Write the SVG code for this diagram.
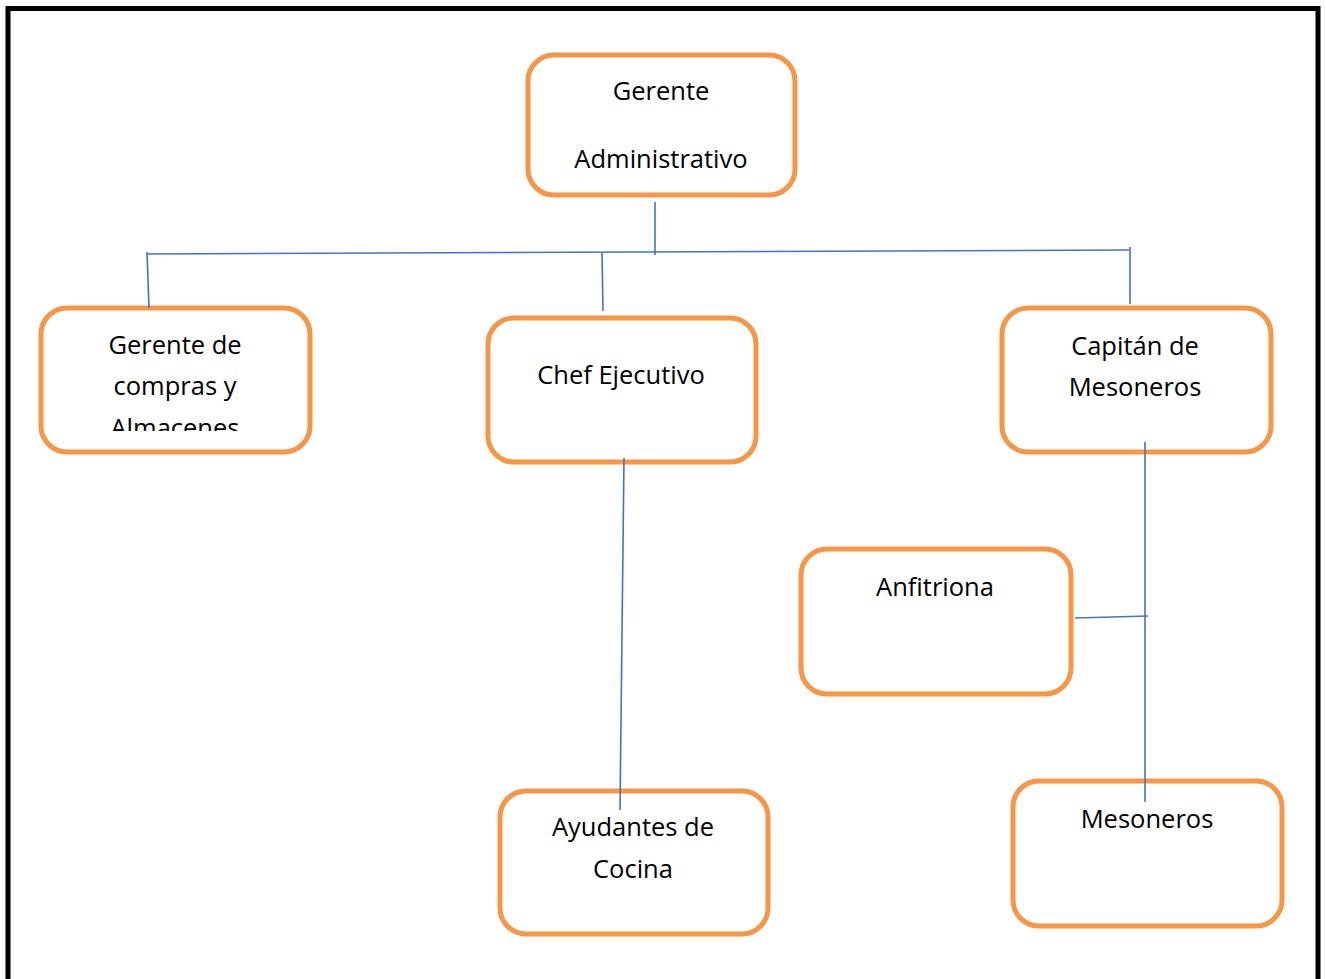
<svg xmlns="http://www.w3.org/2000/svg" width="1326" height="979" viewBox="0 0 1326 979">
<style>
.box{fill:#fff;stroke:#F79646;stroke-width:5}
.t{font-family:"Open Sans","Noto Sans",sans-serif;font-size:25.5px;fill:#000;text-anchor:middle}
.c{stroke:#4472C4;stroke-width:1.6;fill:none}
</style>
<defs>
<clipPath id="clipA"><rect x="43" y="310" width="265" height="121"/></clipPath>
</defs>
<rect x="8" y="8.5" width="1310" height="990" fill="#fff" stroke="#000" stroke-width="5"/>
<g id="n-admin">
<rect class="box" x="528" y="55" width="267" height="140" rx="26"/>
<text class="t" x="661" y="100">Gerente</text>
<text class="t" x="661" y="168">Administrativo</text>
</g>
<g id="n-compras">
<rect class="box" x="41" y="308" width="269" height="144" rx="26"/>
<g clip-path="url(#clipA)">
<text class="t" x="175" y="354">Gerente de</text>
<text class="t" x="175" y="395">compras y</text>
<text class="t" x="175" y="437">Almacenes</text>
</g>
</g>
<g id="n-chef">
<rect class="box" x="488" y="318" width="268" height="144" rx="26"/>
<text class="t" x="621" y="384">Chef Ejecutivo</text>
</g>
<g id="n-capitan">
<rect class="box" x="1002" y="308" width="269" height="144" rx="26"/>
<text class="t" x="1135" y="355">Capitán de</text>
<text class="t" x="1135" y="396">Mesoneros</text>
</g>
<g id="n-anfitriona">
<rect class="box" x="801" y="549" width="270" height="145" rx="26"/>
<text class="t" x="935" y="596">Anfitriona</text>
</g>
<g id="n-ayudantes">
<rect class="box" x="500" y="791" width="268" height="143" rx="26"/>
<text class="t" x="633" y="836">Ayudantes de</text>
<text class="t" x="633" y="878">Cocina</text>
</g>
<g id="n-mesoneros">
<rect class="box" x="1013" y="781" width="269" height="145" rx="26"/>
<text class="t" x="1147" y="828">Mesoneros</text>
</g>
<g id="connectors">
<line class="c" x1="655" y1="202" x2="655" y2="255"/>
<line class="c" x1="147" y1="254" x2="1129" y2="250"/>
<line class="c" x1="147" y1="252" x2="149" y2="308"/>
<line class="c" x1="602" y1="253" x2="603" y2="311"/>
<line class="c" x1="1130" y1="247" x2="1130" y2="304"/>
<line class="c" x1="624" y1="458" x2="620" y2="810"/>
<line class="c" x1="1145" y1="442" x2="1145" y2="802"/>
<line class="c" x1="1075" y1="618" x2="1148" y2="616"/>
</g>
</svg>
